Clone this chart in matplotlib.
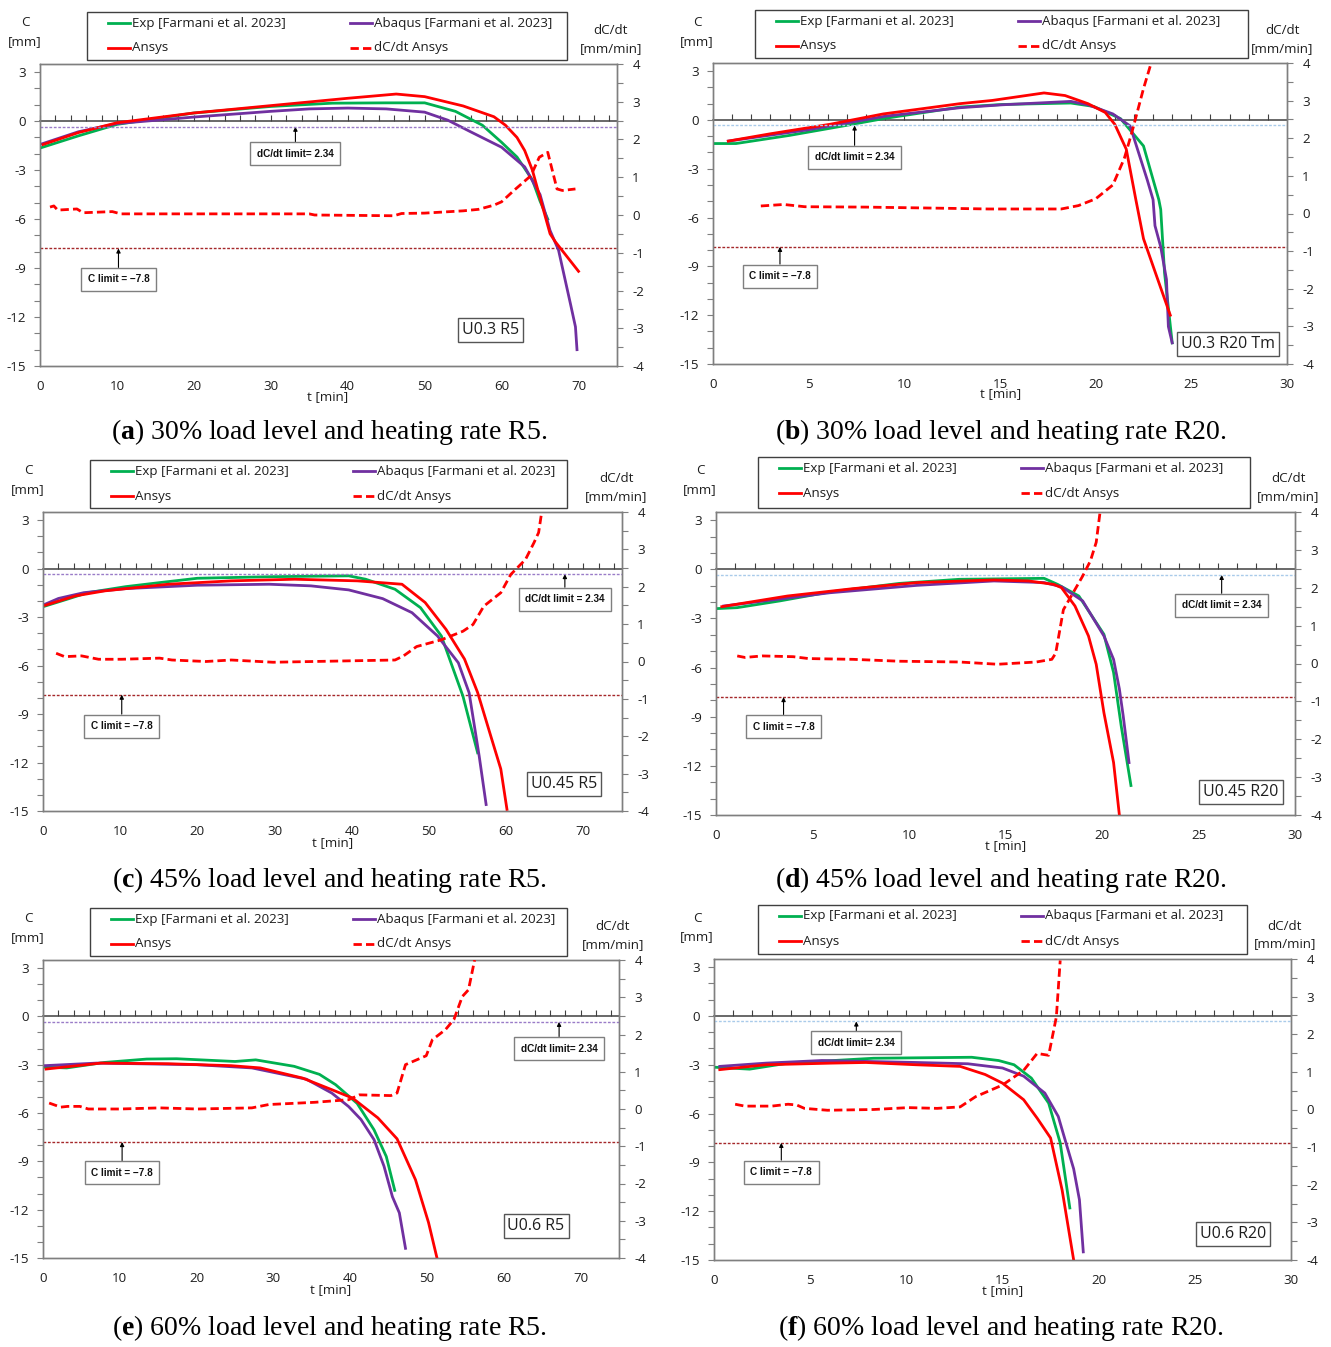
import matplotlib
matplotlib.use("Agg")
import matplotlib.pyplot as plt
from matplotlib.ticker import MultipleLocator, NullFormatter
from matplotlib.lines import Line2D
from matplotlib.patches import Rectangle

plt.rcParams["font.family"] = ["Open Sans", "DejaVu Sans"]
plt.rcParams["axes.unicode_minus"] = False
plt.rcParams["mathtext.fontset"] = "custom"
plt.rcParams["mathtext.rm"] = "Liberation Serif"
plt.rcParams["mathtext.bf"] = "Liberation Serif:bold"

# ------------------------------------------------------------------
# Data: time t [min], deflection C [mm], deflection rate dC/dt [mm/min]
# ------------------------------------------------------------------
# (a) U0.3 R5
a_exp_t = [0, 5, 10, 20, 30, 38, 45, 50, 54, 57.5, 60, 62, 64, 65, 66]
a_exp_c = [-1.65, -0.9, -0.2, 0.5, 0.9, 1.1, 1.12, 1.12, 0.6, -0.25, -1.3, -2.2, -3.6, -4.9, -6.0]
a_abq_t = [0.2, 5, 10, 20, 30, 35, 40, 45, 50, 53, 56, 60, 63, 65, 66.3, 67.4, 69, 69.6, 69.8]
a_abq_c = [-1.4, -0.65, -0.15, 0.25, 0.6, 0.75, 0.8, 0.75, 0.55, 0.06, -0.66, -1.6, -2.8, -4.5, -6.7, -7.9, -11.3, -12.6, -14.0]
a_ans_t = [0.4, 5, 10, 20, 30, 40, 46.3, 50, 55, 59, 60.5, 62, 63, 64, 65, 66.3, 67, 70]
a_ans_c = [-1.43, -0.7, -0.1, 0.5, 0.95, 1.4, 1.66, 1.5, 0.93, 0.27, -0.25, -1.0, -1.8, -3.0, -4.7, -6.9, -7.4, -9.2]
a_rate_t = [1.3, 1.8, 2.3, 4.8, 5.6, 9.4, 10.5, 20, 35, 35.7, 46, 47, 50, 55, 57, 59, 60,
            61.6, 63.8, 64.9, 66, 67.2, 67.9, 69.6]
a_rate_v = [0.21, 0.24, 0.13, 0.16, 0.06, 0.09, 0.03, 0.03, 0.03, 0.0, -0.02, 0.04, 0.05, 0.11,
            0.15, 0.26, 0.35, 0.65, 1.04, 1.53, 1.66, 0.69, 0.65, 0.69]

# (b) U0.3 R20 Tm
b_exp_t = [0, 1.2, 4, 6.8, 9, 12.9, 15.1, 18.7, 19.9, 21.3, 22.5, 23.3, 23.4, 23.6, 24.0]
b_exp_c = [-1.45, -1.45, -0.95, -0.37, 0.1, 0.79, 0.95, 1.04, 0.83, 0.08, -1.6, -4.9, -5.5, -9.4, -13.7]
b_abq_t = [0.8, 5, 9, 12.9, 15.1, 18.7, 19.6, 20.9, 21.8, 22.7, 23.0, 23.1, 23.4, 23.7, 23.8, 24.0]
b_abq_c = [-1.3, -0.6, 0.23, 0.75, 0.93, 1.14, 0.93, 0.37, -0.37, -3.7, -4.9, -6.5, -7.8, -9.8, -12.7, -13.7]
b_ans_t = [0.8, 3, 6.1, 8.9, 12.9, 14.6, 17.3, 18.4, 19.6, 20.5, 21, 21.6, 22.1, 22.5, 23.9]
b_ans_c = [-1.3, -0.85, -0.27, 0.37, 1.0, 1.2, 1.66, 1.5, 1.0, 0.46, -0.27, -1.8, -4.9, -7.3, -12.0]
b_rate_t = [2.5, 3.7, 4.8, 8, 12, 14.4, 18.2, 19.1, 20, 20.9, 21.5, 21.9, 22.5, 22.9]
b_rate_v = [0.2, 0.24, 0.18, 0.17, 0.14, 0.12, 0.12, 0.21, 0.39, 0.76, 1.47, 2.17, 3.32, 4.0]

# (c) U0.45 R5
c_exp_t = [0, 3.1, 5.8, 10.7, 15.1, 20, 29.8, 39.6, 41.8, 45.6, 48.9, 51.6, 54.4, 56.3]
c_exp_c = [-2.36, -1.9, -1.49, -1.12, -0.87, -0.6, -0.5, -0.45, -0.66, -1.28, -2.42, -4.17, -7.9, -11.4]
c_abq_t = [0.3, 2, 5.3, 10.7, 20, 29.3, 34.7, 39.6, 44, 47.8, 51.1, 53.8, 55.2, 56.5, 57.4]
c_abq_c = [-2.2, -1.85, -1.49, -1.24, -1.03, -0.97, -1.07, -1.32, -1.86, -2.73, -4.17, -5.83, -7.69, -11.6, -14.6]
c_ans_t = [0.3, 4.2, 8, 16.2, 24.4, 32.6, 40.7, 46.5, 49.5, 52.2, 54.6, 56.3, 57.9, 59.3, 60.1]
c_ans_c = [-2.27, -1.69, -1.38, -0.97, -0.76, -0.66, -0.76, -0.97, -2.1, -3.76, -5.6, -7.67, -10.2, -12.4, -14.9]
c_rate_t = [1.7, 2.8, 5, 7.2, 10.2, 15.1, 16.7, 21.1, 24.4, 29.8, 35, 45.6, 46.7, 48.4, 51.6,
            54.4, 55.7, 57.1, 59.3, 60.6, 62.5, 63.6, 64.2, 64.6]
c_rate_v = [0.22, 0.13, 0.15, 0.06, 0.06, 0.09, 0.04, 0.0, 0.04, -0.02, 0.0, 0.04, 0.15, 0.4,
            0.58, 0.81, 0.99, 1.48, 1.84, 2.33, 2.73, 3.18, 3.45, 4.0]

# (d) U0.45 R20
d_exp_t = [0, 1.1, 3.3, 5.9, 9.5, 12.6, 17, 17.7, 18.8, 20.1, 20.6, 21, 21.5]
d_exp_c = [-2.4, -2.34, -1.93, -1.38, -0.86, -0.61, -0.55, -0.92, -1.63, -3.97, -6.3, -9.6, -13.2]
d_abq_t = [0.4, 5.9, 10.4, 14.4, 17, 17.9, 19, 20.1, 20.6, 20.9, 21.1, 21.4]
d_abq_c = [-2.24, -1.43, -0.98, -0.71, -0.81, -1.06, -1.93, -4.07, -5.5, -7.3, -8.96, -11.8]
d_ans_t = [0.3, 3.7, 7.1, 10.4, 14.4, 16.2, 17.5, 17.9, 18.6, 19.3, 19.7, 20.1, 20.6, 20.9]
d_ans_c = [-2.28, -1.63, -1.18, -0.81, -0.65, -0.71, -0.92, -1.12, -2.24, -4.07, -5.8, -8.76, -11.8, -15.0]
d_rate_t = [1.1, 1.5, 2.4, 4, 4.8, 7.1, 9.5, 12.6, 14.6, 16.6, 17.4, 17.6, 18, 19, 19.4, 19.7, 19.9]
d_rate_v = [0.2, 0.16, 0.2, 0.18, 0.13, 0.11, 0.06, 0.04, -0.02, 0.04, 0.11, 0.27, 1.42, 2.31, 2.71, 3.2, 4.0]

# (e) U0.6 R5
e_exp_t = [0, 3.1, 8, 13.5, 17.4, 25, 27.7, 32.7, 36, 38.1, 40.9, 43.1, 44.7, 45.8]
e_exp_c = [-3.15, -3.2, -2.86, -2.65, -2.63, -2.8, -2.7, -3.1, -3.6, -4.24, -5.4, -7.04, -8.7, -10.8]
e_abq_t = [0.2, 7, 20, 27.2, 34.3, 37.6, 39.8, 41.4, 43.1, 44.4, 45.5, 46.4, 47.2]
e_abq_c = [-3.06, -2.9, -3.0, -3.2, -3.9, -4.76, -5.6, -6.4, -7.65, -9.3, -11.2, -12.2, -14.4]
e_ans_t = [0.4, 3.7, 7.5, 16.3, 24.5, 28.3, 33.8, 37.6, 40.3, 43.6, 46.1, 48.5, 50.2, 51.3]
e_ans_c = [-3.27, -3.1, -2.9, -2.94, -3.06, -3.2, -3.83, -4.55, -5.07, -6.3, -7.6, -10.14, -12.8, -15.0]
e_rate_t = [0.8, 2.3, 3.2, 4.8, 5.9, 10, 15.2, 20.1, 27.2, 29.4, 35.4, 39.8, 41.2, 45.3, 46.1,
            47.2, 49.9, 50.7, 52.4, 53.5, 54.6, 55.4, 56.2]
e_rate_v = [0.16, 0.05, 0.07, 0.07, 0.0, 0.0, 0.03, 0.0, 0.03, 0.12, 0.18, 0.25, 0.38, 0.36, 0.43,
            1.19, 1.43, 1.86, 2.13, 2.4, 3.02, 3.2, 4.0]

# (f) U0.6 R20
f_exp_t = [0, 1.85, 3.85, 8.3, 13.4, 14.8, 15.6, 16.5, 17.4, 18, 18.5]
f_exp_c = [-3.15, -3.27, -2.9, -2.6, -2.54, -2.74, -3.0, -3.82, -5.36, -7.8, -11.8]
f_abq_t = [0.3, 2.7, 5.6, 10.5, 13.2, 15, 16.1, 17.2, 17.9, 18.3, 18.7, 19, 19.2]
f_abq_c = [-3.1, -2.9, -2.74, -2.86, -2.94, -3.2, -3.7, -4.74, -6.18, -7.8, -9.4, -11.3, -14.5]
f_ans_t = [0.3, 2.7, 6.1, 7.9, 10.5, 12.8, 14.1, 15, 16.1, 16.8, 17.5, 18.1, 18.7]
f_ans_c = [-3.3, -3.0, -2.9, -2.86, -3.0, -3.1, -3.6, -4.13, -5.15, -6.28, -7.5, -10.7, -15.0]
f_rate_t = [1.1, 1.6, 3, 3.85, 4.3, 4.7, 5.9, 8.3, 10.1, 11.6, 12.8, 13.6, 15, 16.1, 16.8, 17.4, 17.8, 18]
f_rate_v = [0.14, 0.09, 0.09, 0.14, 0.12, 0.03, -0.02, 0.0, 0.05, 0.03, 0.07, 0.34, 0.65, 1.04,
            1.49, 1.44, 2.46, 3.96]

C_LIMIT = -7.8
DCDT_LIMIT = 2.34

LEGEND_LABELS = ["Exp [Farmani et al. 2023]", "Abaqus [Farmani et al. 2023]", "Ansys", "dC/dt Ansys"]

# ------------------------------------------------------------------
# Figure layout (pixel geometry of a 1331 x 1347 canvas)
# ------------------------------------------------------------------
W, H = 1331, 1347
fig = plt.figure(figsize=(W / 100, H / 100), dpi=100)
fig.patch.set_facecolor("white")

C_MIN, C_MAX = -15, 3.5
R_MIN, R_MAX = -4, 4

GREEN = "#00B050"
PURPLE = "#7030A0"
RED = "#FF0000"
GRAY = "#7F7F7F"
TXT = "#1E1E1E"
CLIM_COLOR = "#A5282A"
FS = 9.6


def fx(px):
    return px / W


def fy(py):
    return 1 - py / H


def r_to_c(r):
    return C_MIN + (r - R_MIN) / (R_MAX - R_MIN) * (C_MAX - C_MIN)


panels = [
    dict(tag="a", caption="30% load level and heating rate R5.", label="U0.3 R5",
         axes=(40, 64, 617, 366), tmax=75, tstep=10, tminor=2,
         legend=(87, 12, 567, 60), ylab=(25, 23, 42), rlab=(611, 31, 49),
         xlab=(328, 397), cap=(329, 432),
         exp=(a_exp_t, a_exp_c), abq=(a_abq_t, a_abq_c), ans=(a_ans_t, a_ans_c),
         rate=(a_rate_t, a_rate_v), lim_color="#9A7CC8",
         dcdt_box=(33.2, -2.0, "dC/dt limit= 2.34"), c_box=(10.2, -9.7),
         label_pos=(58.6, -12.8)),
    dict(tag="b", caption="30% load level and heating rate R20.", label="U0.3 R20 Tm",
         axes=(713, 63, 1287, 364), tmax=30, tstep=5, tminor=1,
         legend=(755, 10, 1248, 58), ylab=(697, 22, 42), rlab=(1282, 31, 49),
         xlab=(1001, 394), cap=(1001, 432),
         exp=(b_exp_t, b_exp_c), abq=(b_abq_t, b_abq_c), ans=(b_ans_t, b_ans_c),
         rate=(b_rate_t, b_rate_v), lim_color="#A9CBEA",
         dcdt_box=(7.4, -2.3, "dC/dt limit = 2.34"), c_box=(3.5, -9.6),
         label_pos=(26.9, -13.8)),
    dict(tag="c", caption="45% load level and heating rate R5.", label="U0.45 R5",
         axes=(43, 512, 622, 811), tmax=75, tstep=10, tminor=2,
         legend=(90, 460, 567, 508), ylab=(28, 471, 490), rlab=(616, 479, 497),
         xlab=(333, 843), cap=(329, 880),
         exp=(c_exp_t, c_exp_c), abq=(c_abq_t, c_abq_c), ans=(c_ans_t, c_ans_c),
         rate=(c_rate_t, c_rate_v), lim_color="#9A7CC8",
         dcdt_box=(67.6, -1.9, "dC/dt limit = 2.34"), c_box=(10.2, -9.75),
         label_pos=(67.5, -13.3)),
    dict(tag="d", caption="45% load level and heating rate R20.", label="U0.45 R20",
         axes=(716, 512, 1295, 815), tmax=30, tstep=5, tminor=1,
         legend=(758, 457, 1250, 508), ylab=(700, 470, 490), rlab=(1288, 479, 497),
         xlab=(1006, 846), cap=(1001, 880),
         exp=(d_exp_t, d_exp_c), abq=(d_abq_t, d_abq_c), ans=(d_ans_t, d_ans_c),
         rate=(d_rate_t, d_rate_v), lim_color="#A9CBEA",
         dcdt_box=(26.2, -2.2, "dC/dt limit = 2.34"), c_box=(3.5, -9.6),
         label_pos=(27.2, -13.6)),
    dict(tag="e", caption="60% load level and heating rate R5.", label="U0.6 R5",
         axes=(43, 960, 619, 1258), tmax=75, tstep=10, tminor=2,
         legend=(90, 908, 567, 956), ylab=(28, 919, 938), rlab=(613, 927, 945),
         xlab=(331, 1290), cap=(329, 1328),
         exp=(e_exp_t, e_exp_c), abq=(e_abq_t, e_abq_c), ans=(e_ans_t, e_ans_c),
         rate=(e_rate_t, e_rate_v), lim_color="#9A7CC8",
         dcdt_box=(67.2, -2.0, "dC/dt limit= 2.34"), c_box=(10.3, -9.7),
         label_pos=(64.2, -13.0)),
    dict(tag="f", caption="60% load level and heating rate R20.", label="U0.6 R20",
         axes=(714, 959, 1291, 1260), tmax=30, tstep=5, tminor=1,
         legend=(758, 905, 1247, 954), ylab=(697, 918, 937), rlab=(1285, 926, 944),
         xlab=(1003, 1291), cap=(1001, 1328),
         exp=(f_exp_t, f_exp_c), abq=(f_abq_t, f_abq_c), ans=(f_ans_t, f_ans_c),
         rate=(f_rate_t, f_rate_v), lim_color="#A9CBEA",
         dcdt_box=(7.4, -1.65, "dC/dt limit= 2.34"), c_box=(3.5, -9.6),
         label_pos=(27.0, -13.4)),
]

LINE_W = 2.0
RATE_DASH = (3, 1.5)


def draw_legend(box):
    l, t, r, b = box
    fig.add_artist(Rectangle((fx(l), fy(b)), (r - l) / W, (b - t) / H,
                             transform=fig.transFigure, fill=False,
                             edgecolor="#404040", linewidth=1.0))
    rows = [t + 11, t + 36]
    cols = [l + 21, l + 263]
    entries = [
        (cols[0], rows[0], GREEN, "-", LEGEND_LABELS[0]),
        (cols[1], rows[0], PURPLE, "-", LEGEND_LABELS[1]),
        (cols[0], rows[1], RED, "-", LEGEND_LABELS[2]),
        (cols[1], rows[1], RED, "--", LEGEND_LABELS[3]),
    ]
    for x, y, col, ls, txt in entries:
        ln = Line2D([fx(x), fx(x + 22)], [fy(y), fy(y)], color=col, lw=LINE_W,
                    transform=fig.transFigure)
        if ls == "--":
            ln.set_dashes(RATE_DASH)
        fig.add_artist(ln)
        fig.text(fx(x + 24), fy(y), txt, ha="left", va="center", fontsize=FS, color=TXT)


def draw_panel(p):
    l, t, r, b = p["axes"]
    ax = fig.add_axes([fx(l), fy(b), (r - l) / W, (b - t) / H])
    ax.set_xlim(0, p["tmax"])
    ax.set_ylim(C_MIN, C_MAX)
    ax.xaxis.set_major_locator(MultipleLocator(p["tstep"]))
    ax.yaxis.set_major_locator(MultipleLocator(3))
    ax.yaxis.set_minor_locator(MultipleLocator(1))
    ax.tick_params(axis="x", which="both", length=0, pad=10, labelsize=FS, labelcolor=TXT)
    ax.tick_params(axis="y", which="both", direction="out", length=4, width=0.8,
                   color=GRAY, labelsize=FS, pad=6, labelcolor=TXT)
    for s in ax.spines.values():
        s.set_color(GRAY)
        s.set_linewidth(1.0)

    # zero line carrying the time ticks
    zero_frac = (0 - C_MIN) / (C_MAX - C_MIN)
    sec = ax.secondary_xaxis(zero_frac)
    sec.xaxis.set_major_locator(MultipleLocator(p["tminor"]))
    sec.xaxis.set_major_formatter(NullFormatter())
    sec.tick_params(axis="x", direction="out", length=4, width=0.8, color="#404040")
    for s in sec.spines.values():
        s.set_color("#404040")
        s.set_linewidth(1.1)

    # limit lines
    ax.axhline(C_LIMIT, color=CLIM_COLOR, lw=1.0, ls=(0, (2, 1.2)), zorder=1)

    # deflection curves
    ax.plot(*p["exp"], color=GREEN, lw=LINE_W, zorder=3)
    ax.plot(*p["abq"], color=PURPLE, lw=LINE_W, zorder=3)
    ax.plot(*p["ans"], color=RED, lw=LINE_W, zorder=4)

    # annotations
    bbox = dict(boxstyle="square,pad=0.65", fc="white", ec=GRAY, lw=1.0)
    arrow = dict(arrowstyle="-|>", color="black", lw=0.8, mutation_scale=6,
                 shrinkA=0, shrinkB=0)
    dt, dc, dtxt = p["dcdt_box"]
    ax.annotate(dtxt, xy=(dt, r_to_c(DCDT_LIMIT)), xytext=(dt, dc), ha="center",
                va="center", fontsize=7.2, fontweight="bold", color="#111111",
                family=["Liberation Sans", "DejaVu Sans"], bbox=bbox, arrowprops=arrow,
                zorder=5)
    ct, cc = p["c_box"]
    ax.annotate("C limit = \u22127.8", xy=(ct, C_LIMIT), xytext=(ct, cc), ha="center",
                va="center", fontsize=7.2, fontweight="bold", color="#111111",
                family=["Liberation Sans", "DejaVu Sans"], bbox=bbox, arrowprops=arrow,
                zorder=5)
    lt, lc = p["label_pos"]
    ax.text(lt, lc, p["label"], ha="center", va="center", fontsize=11.5, color=TXT,
            bbox=dict(boxstyle="square,pad=0.25", fc="white", ec="#555555", lw=1.0), zorder=5)

    # deflection rate on the secondary axis
    ax2 = ax.twinx()
    ax2.set_ylim(R_MIN, R_MAX)
    ax2.yaxis.set_major_locator(MultipleLocator(1))
    ax2.yaxis.set_minor_locator(MultipleLocator(0.5))
    ax2.tick_params(axis="y", which="both", direction="out", length=4, width=0.8,
                    color=GRAY, labelsize=FS, pad=7, labelcolor=TXT)
    for s in ax2.spines.values():
        s.set_color(GRAY)
        s.set_linewidth(1.0)
    ax2.axhline(DCDT_LIMIT, color=p["lim_color"], lw=1.0, ls=(0, (2, 1.2)), zorder=1)
    rl, = ax2.plot(*p["rate"], color=RED, lw=LINE_W, zorder=3)
    rl.set_dashes(RATE_DASH)

    # axis titles
    x0, y1, y2 = p["ylab"]
    fig.text(fx(x0), fy(y1), "C", ha="center", va="center", fontsize=FS, color=TXT)
    fig.text(fx(x0), fy(y2), "[mm]", ha="center", va="center", fontsize=FS, color=TXT)
    x0, y1, y2 = p["rlab"]
    fig.text(fx(x0), fy(y1), "dC/dt", ha="center", va="center", fontsize=FS, color=TXT)
    fig.text(fx(x0), fy(y2), "[mm/min]", ha="center", va="center", fontsize=FS, color=TXT)
    xx, xy = p["xlab"]
    fig.text(fx(xx), fy(xy), "t [min]", ha="center", va="center", fontsize=FS, color=TXT)

    draw_legend(p["legend"])

    cx, cy = p["cap"]
    fig.text(fx(cx), fy(cy), r"($\mathbf{%s}$) %s" % (p["tag"], p["caption"]),
             ha="center", va="center", fontsize=20, family="Liberation Serif", color="black")


for p in panels:
    draw_panel(p)

fig.savefig("out.png", dpi=100, facecolor="white")
